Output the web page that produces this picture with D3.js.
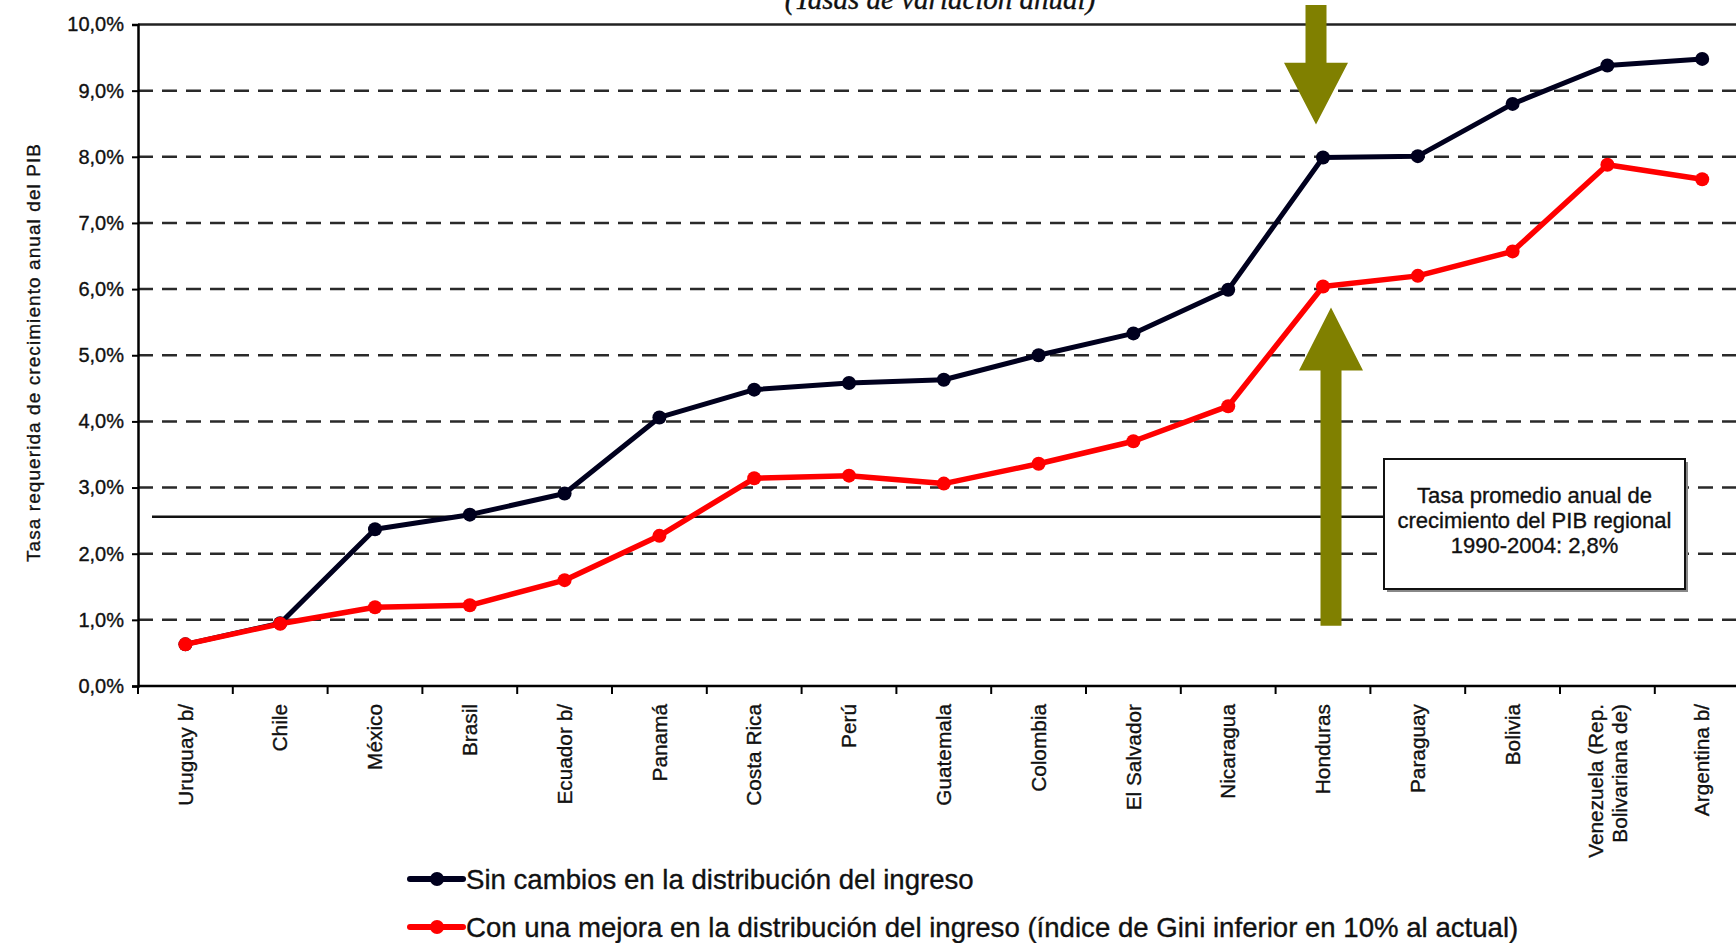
<!DOCTYPE html>
<html>
<head>
<meta charset="utf-8">
<script src="https://cdn.jsdelivr.net/npm/d3@7"></script>
<style>
  body { margin: 0; background: #fff; }
  svg { display: block; }
  text { font-family: "Liberation Sans", Arial, sans-serif; fill: #111; stroke: #111; stroke-width: 0.35px; }
</style>
</head>
<body>
<svg id="chart" width="1736" height="943"></svg>
<script>
const countries = ["Uruguay b/", "Chile", "México", "Brasil", "Ecuador b/", "Panamá", "Costa Rica",
  "Perú", "Guatemala", "Colombia", "El Salvador", "Nicaragua", "Honduras", "Paraguay", "Bolivia",
  "Venezuela (Rep.|Bolivariana de)", "Argentina b/"];

// tasa requerida (%)
const sinCambios = [0.63, 0.95, 2.37, 2.59, 2.91, 4.06, 4.48, 4.58, 4.63, 5.00, 5.33, 5.99, 7.99, 8.01, 8.80, 9.38, 9.48];
const conMejora = [0.63, 0.94, 1.19, 1.22, 1.60, 2.27, 3.14, 3.18, 3.06, 3.36, 3.70, 4.23, 6.04, 6.20, 6.57, 7.88, 7.66];

const yTicks = [0, 1, 2, 3, 4, 5, 6, 7, 8, 9, 10];
const promedioLinea = 2.56;
const promedioTexto = ["Tasa promedio anual de", "crecimiento del PIB regional", "1990-2004: 2,8%"];

const seriesNames = ["Sin cambios en la distribución del ingreso",
  "Con una mejora en la distribución del ingreso (índice de Gini inferior en 10% al actual)"];
const seriesColors = ["#00001e", "#ff0000"];

const svg = d3.select("#chart");
const mLeft = 138, mTop = 24.5, mBottom = 686, band = 94.8;

const x = d3.scaleBand().domain(countries).range([mLeft, mLeft + band * countries.length]).padding(0);
const y = d3.scaleLinear().domain([0, 10]).range([mBottom, mTop]);
const fmt = v => d3.format(".1f")(v).replace(".", ",") + "%";

// title (cut at the top, as in the source)
svg.append("text")
  .attr("x", 940).attr("y", 9)
  .attr("text-anchor", "middle")
  .style("font-family", "'Liberation Serif', 'Times New Roman', serif")
  .style("font-style", "italic")
  .style("font-size", "29px")
  .text("(Tasas de variación anual)");

// gridlines
svg.append("g").selectAll("line")
  .data(yTicks.filter(d => d > 0 && d < 10))
  .join("line")
  .attr("x1", mLeft).attr("x2", 1736)
  .attr("y1", d => y(d)).attr("y2", d => y(d))
  .attr("stroke", "#2a2a2a").attr("stroke-width", 2.5)
  .attr("stroke-dasharray", "15,9");

svg.append("line")
  .attr("x1", mLeft).attr("x2", 1736)
  .attr("y1", y(10)).attr("y2", y(10))
  .attr("stroke", "#222").attr("stroke-width", 2.5);

// y axis
const yAxis = svg.append("g")
  .attr("transform", `translate(${mLeft},0)`)
  .call(d3.axisLeft(y).tickValues(yTicks).tickFormat(fmt).tickSize(6).tickPadding(8));
yAxis.select(".domain").attr("stroke", "#000").attr("stroke-width", 2.5);
yAxis.selectAll(".tick line").attr("stroke", "#000").attr("stroke-width", 2);
yAxis.selectAll(".tick text")
  .style("font-family", "'Liberation Sans', Arial, sans-serif")
  .style("font-size", "20px").attr("fill", "#111");

// x axis
const xAxis = svg.append("g").attr("transform", `translate(0,${mBottom})`);
xAxis.append("line")
  .attr("x1", mLeft).attr("x2", 1736)
  .attr("stroke", "#000").attr("stroke-width", 2.5);
xAxis.selectAll(".tk")
  .data(countries)
  .join("line")
  .attr("class", "tk")
  .attr("x1", d => x(d)).attr("x2", d => x(d))
  .attr("y1", 0).attr("y2", 8)
  .attr("stroke", "#000").attr("stroke-width", 2);

const labels = xAxis.selectAll(".lbl")
  .data(countries)
  .join("text")
  .attr("class", "lbl")
  .attr("transform", d => `translate(${x(d) + x.bandwidth() / 2},18) rotate(-90)`)
  .attr("text-anchor", "end")
  .style("font-size", "20.8px");
labels.each(function (d) {
  const parts = d.split("|");
  const t = d3.select(this);
  parts.forEach((p, i) => {
    t.append("tspan")
      .attr("x", 0)
      .attr("y", (i - (parts.length - 1) / 2) * 24)
      .attr("dy", "0.35em")
      .text(p);
  });
});

// y axis title
svg.append("text")
  .attr("transform", `translate(40,353) rotate(-90)`)
  .attr("text-anchor", "middle")
  .style("font-size", "19px")
  .attr("textLength", 418)
  .text("Tasa requerida de crecimiento anual del PIB");

// reference line + box
svg.append("line")
  .attr("x1", 152).attr("x2", 1384)
  .attr("y1", y(promedioLinea)).attr("y2", y(promedioLinea))
  .attr("stroke", "#111").attr("stroke-width", 2.5);

// arrows at Honduras
const hx = x("Honduras") + x.bandwidth() / 2;
const olive = "#808000";
function arrowPath(cx, yTop, yHead, yTip) {
  return `M${cx - 10.5},${yTop}H${cx + 10.5}V${yHead}H${cx + 32}L${cx},${yTip}L${cx - 32},${yHead}H${cx - 10.5}Z`;
}
svg.append("path")
  .attr("d", arrowPath(hx - 7, 5, y(9.42), y(8.49)))
  .attr("fill", olive);
svg.append("path")
  .attr("d", arrowPath(hx + 8, y(0.91), y(4.77), y(5.72)))
  .attr("fill", olive);

const box = svg.append("g");
box.append("rect")
  .attr("x", 1387).attr("y", 462).attr("width", 301).attr("height", 130)
  .attr("fill", "#888");
box.append("rect")
  .attr("x", 1384).attr("y", 459).attr("width", 301).attr("height", 130)
  .attr("fill", "#fff").attr("stroke", "#111").attr("stroke-width", 2);
box.append("text")
  .attr("x", 1534.5).attr("text-anchor", "middle")
  .style("font-size", "22px")
  .selectAll("tspan")
  .data(promedioTexto)
  .join("tspan")
  .attr("x", 1534.5)
  .attr("y", (d, i) => 503 + i * 25)
  .text(d => d);

// series
const data = [sinCambios, conMejora];
const line = d3.line().x((d, i) => x(countries[i]) + x.bandwidth() / 2).y(d => y(d));
const g = svg.append("g");
data.forEach((vals, k) => {
  g.append("path")
    .datum(vals)
    .attr("d", line)
    .attr("fill", "none")
    .attr("stroke", seriesColors[k])
    .attr("stroke-width", k ? 5.5 : 5)
    .attr("stroke-linejoin", "round");
  g.append("g").selectAll("circle")
    .data(vals)
    .join("circle")
    .attr("cx", (d, i) => x(countries[i]) + x.bandwidth() / 2)
    .attr("cy", d => y(d))
    .attr("r", 7)
    .attr("fill", seriesColors[k]);
});

// legend
const legend = svg.append("g").selectAll("g")
  .data(seriesNames)
  .join("g")
  .attr("transform", (d, i) => `translate(410,${879 + i * 48})`);
legend.append("line")
  .attr("x1", 0).attr("x2", 53)
  .attr("stroke", (d, i) => seriesColors[i]).attr("stroke-width", 6)
  .attr("stroke-linecap", "round");
legend.append("circle")
  .attr("cx", 27).attr("r", 7)
  .attr("fill", (d, i) => seriesColors[i]);
legend.append("text")
  .attr("x", 56).attr("dy", "0.36em")
  .style("font-size", "27.6px")
  .text(d => d);
</script>
</body>
</html>
